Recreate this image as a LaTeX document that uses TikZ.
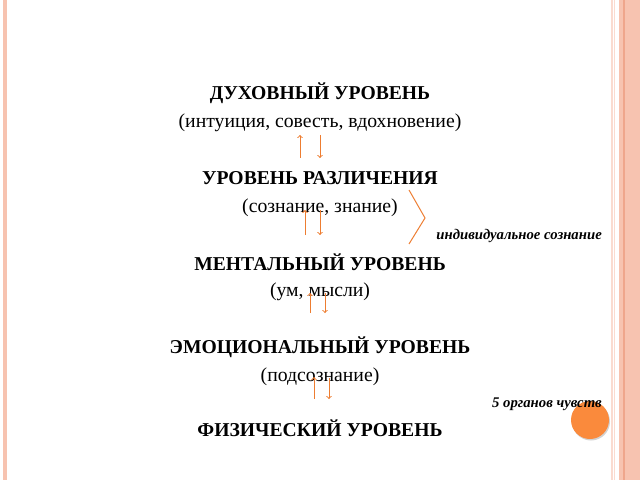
\documentclass[tikz,border=0pt]{standalone}
\usepackage{fontspec}
\setmainfont{Liberation Serif}
\usetikzlibrary{arrows,positioning,shadows}

\definecolor{levelarrow}{HTML}{ED7D31}
\definecolor{stripe}{HTML}{F7C3B0}
\definecolor{stripedark}{HTML}{EFA68C}
\definecolor{dot}{HTML}{FA8A3C}

\tikzset{
  level/.style={font=\fontsize{19.7}{22}\selectfont\bfseries, inner sep=0pt},
  detail/.style={font=\fontsize{19.8}{22}\selectfont, inner sep=0pt},
  remark/.style={font=\fontsize{14.8}{16}\selectfont\bfseries\itshape, inner sep=0pt, anchor=east},
  updown/.style={->, >=to, levelarrow, line width=1bp}
}

\begin{document}
\begin{tikzpicture}[x=1bp, y=-1bp, node distance=30bp, on grid]
      \useasboundingbox (0,0) rectangle (640,480);
      % Frame
      \fill[stripe] (3,0) rectangle (7,480);
      \fill[stripe!60] (611,0) rectangle (612.5,480);
      \fill[stripe!60] (614,0) rectangle (615,480);
      \fill[stripe] (619,0) rectangle (640,480);
      \fill[stripedark] (623,0) rectangle (625,480);
      % Place nodes
      \node [level] (spirit) at (320,93) {ДУХОВНЫЙ УРОВЕНЬ};
      \node [detail, below= of spirit] (spiritd) {(интуиция, совесть, вдохновение)};
      \node [level, below=55bp of spiritd] (discern) {УРОВЕНЬ РАЗЛИЧЕНИЯ};
      \node [detail, below= of discern] (discernd) {(сознание, знание)};
      \node [level, below=54bp of discernd] (mental) {МЕНТАЛЬНЫЙ УРОВЕНЬ};
      \node [detail, below= of mental] (mentald) {(ум, мысли)};
      \node [level, below=55bp of mentald] (emotion) {ЭМОЦИОНАЛЬНЫЙ УРОВЕНЬ};
      \node [detail, below= of emotion] (emotiond) {(подсознание)};
      \node [level, below=51bp of emotiond] (physical) {ФИЗИЧЕСКИЙ УРОВЕНЬ};
      % Side notes
      \node [remark] (indiv) at (602,236) {индивидуальное сознание};
      \node [circle, fill=dot, minimum size=38bp, drop shadow={shadow xshift=1bp, shadow yshift=-1.5bp, fill=gray!70}] (ball) at (590,420) {};
      \node [remark] (senses) at (602,404) {5 органов чувств};
      \coordinate (bracket) at (425,218);
      \draw [levelarrow, line width=1bp] ([xshift=-16bp,yshift=28bp]bracket) -- (bracket) -- ([xshift=-16bp,yshift=-26bp]bracket);
      % Draw edges
      \draw [updown] ([xshift=-20bp,yshift=20bp]discern.center) -- ([xshift=-20bp,yshift=43bp]discern.center);
      \draw [updown] ([xshift=0bp,yshift=43bp]discern.center) -- ([xshift=0bp,yshift=20bp]discern.center);
      \draw [updown] ([xshift=-15bp,yshift=27bp]mental.center) -- ([xshift=-15bp,yshift=52bp]mental.center);
      \draw [updown] ([xshift=0bp,yshift=52bp]mental.center) -- ([xshift=0bp,yshift=27bp]mental.center);
      \draw [updown] ([xshift=-10bp,yshift=34bp]emotion.center) -- ([xshift=-10bp,yshift=54bp]emotion.center);
      \draw [updown] ([xshift=5bp,yshift=54bp]emotion.center) -- ([xshift=5bp,yshift=34bp]emotion.center);
      \draw [updown] ([xshift=-6bp,yshift=29bp]physical.center) -- ([xshift=-6bp,yshift=51bp]physical.center);
      \draw [updown] ([xshift=9bp,yshift=50bp]physical.center) -- ([xshift=9bp,yshift=29bp]physical.center);
\end{tikzpicture}
\end{document}
